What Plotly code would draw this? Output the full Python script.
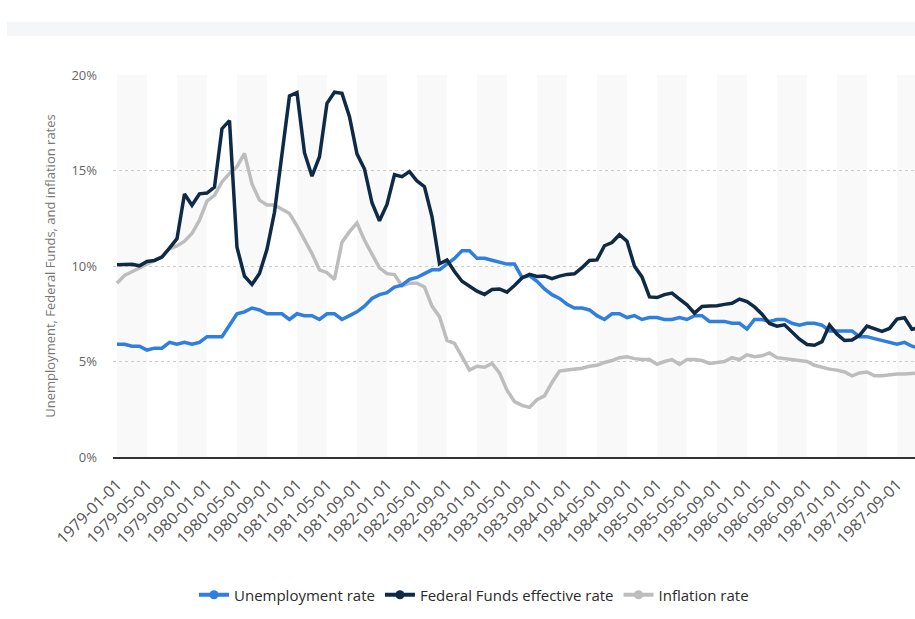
import plotly.graph_objects as go

# ---------------- data ----------------
years = list(range(1979, 1988))
months = [f"{y}-{m:02d}-01" for y in years for m in range(1, 13)]

unemployment = [
    5.9, 5.9, 5.8, 5.8, 5.6, 5.7, 5.7, 6.0, 5.9, 6.0, 5.9, 6.0,
    6.3, 6.3, 6.3, 6.9, 7.5, 7.6, 7.8, 7.7, 7.5, 7.5, 7.5, 7.2,
    7.5, 7.4, 7.4, 7.2, 7.5, 7.5, 7.2, 7.4, 7.6, 7.9, 8.3, 8.5,
    8.6, 8.9, 9.0, 9.3, 9.4, 9.6, 9.8, 9.8, 10.1, 10.4, 10.8, 10.8,
    10.4, 10.4, 10.3, 10.2, 10.1, 10.1, 9.4, 9.5, 9.2, 8.8, 8.5, 8.3,
    8.0, 7.8, 7.8, 7.7, 7.4, 7.2, 7.5, 7.5, 7.3, 7.4, 7.2, 7.3,
    7.3, 7.2, 7.2, 7.3, 7.2, 7.4, 7.4, 7.1, 7.1, 7.1, 7.0, 7.0,
    6.7, 7.2, 7.2, 7.1, 7.2, 7.2, 7.0, 6.9, 7.0, 7.0, 6.9, 6.6,
    6.6, 6.6, 6.6, 6.3, 6.3, 6.2, 6.1, 6.0, 5.9, 6.0, 5.8, 5.7,
]

fed_funds = [
    10.07, 10.06, 10.09, 10.01, 10.24, 10.29, 10.47, 10.94, 11.43, 13.77, 13.18, 13.78,
    13.82, 14.13, 17.19, 17.61, 10.98, 9.47, 9.03, 9.61, 10.87, 12.81, 15.85, 18.90,
    19.08, 15.93, 14.70, 15.72, 18.52, 19.10, 19.04, 17.82, 15.87, 15.08, 13.31, 12.37,
    13.22, 14.78, 14.68, 14.94, 14.45, 14.15, 12.59, 10.12, 10.31, 9.71, 9.20, 8.95,
    8.68, 8.51, 8.77, 8.80, 8.63, 8.98, 9.37, 9.56, 9.45, 9.48, 9.34, 9.47,
    9.56, 9.59, 9.91, 10.29, 10.32, 11.06, 11.23, 11.64, 11.30, 9.99, 9.43, 8.38,
    8.35, 8.50, 8.58, 8.27, 7.97, 7.53, 7.88, 7.90, 7.92, 7.99, 8.05, 8.27,
    8.14, 7.86, 7.48, 6.99, 6.85, 6.92, 6.56, 6.17, 5.89, 5.85, 6.04, 6.91,
    6.43, 6.10, 6.13, 6.37, 6.85, 6.73, 6.58, 6.73, 7.22, 7.29, 6.69, 6.77,
]

inflation = [
    9.1, 9.5, 9.7, 9.9, 10.1, 10.3, 10.5, 10.9, 11.05, 11.3, 11.7, 12.4,
    13.4, 13.7, 14.4, 14.85, 15.2, 15.9, 14.3, 13.45, 13.2, 13.2, 13.0, 12.75,
    12.1, 11.4, 10.65, 9.8, 9.65, 9.3, 11.25, 11.8, 12.25, 11.35, 10.6, 9.9,
    9.6, 9.55, 8.95, 9.1, 9.1, 8.9, 7.9, 7.35, 6.1, 5.95, 5.25, 4.55,
    4.75, 4.7, 4.9, 4.4, 3.5, 2.9, 2.7, 2.6, 3.0, 3.2, 3.9, 4.5,
    4.55, 4.6, 4.65, 4.75, 4.8, 4.95, 5.05, 5.2, 5.25, 5.15, 5.1, 5.1,
    4.85, 5.0, 5.1, 4.85, 5.1, 5.1, 5.05, 4.9, 4.95, 5.0, 5.2, 5.1,
    5.35, 5.25, 5.3, 5.45, 5.2, 5.15, 5.1, 5.05, 5.0, 4.8, 4.7, 4.6,
    4.55, 4.45, 4.25, 4.4, 4.45, 4.25, 4.25, 4.3, 4.35, 4.35, 4.38, 4.4,
]

tick_labels = [
    "1979-01-01", "1979-05-01", "1979-09-01", "1980-01-01", "1980-05-01", "1980-09-01",
    "1981-01-01", "1981-05-01", "1981-09-01", "1982-01-01", "1982-05-01", "1982-09-01",
    "1983-01-01", "1983-05-01", "1983-09-01", "1984-01-01", "1984-05-01", "1984-09-01",
    "1985-01-01", "1985-05-01", "1985-09-01", "1986-01-01", "1986-05-01", "1986-09-01",
    "1987-01-01", "1987-05-01", "1987-09-01",
]
y_ticks = [0, 5, 10, 15, 20]
y_tick_text = ["0%", "5%", "10%", "15%", "20%"]

series_names = ["Unemployment rate", "Federal Funds effective rate", "Inflation rate"]
series_colors = ["#2f7ee0", "#0e2a47", "#bdbdbd"]

# ---------------- figure ----------------
fig = go.Figure()
# draw order: inflation (back), unemployment, fed funds (front)
for vals, name, color in [
    (inflation, series_names[2], series_colors[2]),
    (unemployment, series_names[0], series_colors[0]),
    (fed_funds, series_names[1], series_colors[1]),
]:
    fig.add_trace(go.Scatter(
        x=months, y=vals, mode="lines", name=name,
        line=dict(color=color, width=3.5), showlegend=False,
        hovertemplate="%{x}: %{y:.2f}%<extra>" + name + "</extra>",
    ))

# legend entries
for name, color in zip(series_names, series_colors):
    fig.add_trace(go.Scatter(
        x=[None], y=[None], mode="lines+markers", name=name,
        line=dict(color=color, width=4), marker=dict(color=color, size=9),
        showlegend=True,
    ))

# alternating background bands
shapes = []
n = len(months)
for start in range(0, n, 8):
    shapes.append(dict(
        type="rect", xref="x", yref="y", x0=start, x1=start + 4, y0=0, y1=20,
        fillcolor="#f9f9f9", line=dict(width=0), layer="below",
    ))
# faint strip at the very top of the page
shapes.append(dict(
    type="rect", xref="paper", yref="paper",
    x0=(7 - 113) / 802, x1=(915 - 113) / 802 + 0.01,
    y0=(457 - 36) / 382, y1=(457 - 22) / 382,
    fillcolor="#f5f6f8", line=dict(width=0), layer="below",
))

fig.update_layout(
    width=915, height=619, autosize=False,
    margin=dict(l=113, r=0, t=75, b=162),
    paper_bgcolor="white", plot_bgcolor="white",
    font=dict(family="Open Sans", color="#666666"),
    shapes=shapes,
    showlegend=True,
    legend=dict(
        orientation="h", x=(474 - 113) / 802, xanchor="center",
        y=(457 - 595) / 382, yanchor="middle",
        font=dict(family="Open Sans", size=15, color="#2b2b2b"),
        itemwidth=30, bgcolor="rgba(0,0,0,0)",
    ),
    xaxis=dict(
        type="category", categoryorder="array", categoryarray=months,
        range=[-0.53, 106.4],
        tickmode="array", tickvals=tick_labels, ticktext=tick_labels,
        tickangle=-45, tickfont=dict(family="Open Sans", size=16, color="#555555"),
        showgrid=False, zeroline=False,
        showline=True, linecolor="#333333", linewidth=2,
        ticks="", ticklabelstandoff=10,
    ),
    yaxis=dict(
        range=[0, 20], tickmode="array", tickvals=y_ticks, ticktext=y_tick_text,
        tickfont=dict(family="Open Sans", size=13, color="#666666"),
        showgrid=True, gridcolor="#cccccc", griddash="dot", gridwidth=1,
        zeroline=False, showline=False, ticks="", ticklabelstandoff=15,
        title=dict(text="Unemployment, Federal Funds, and inflation rates",
                   font=dict(family="Open Sans", size=13, color="#777777"),
                   standoff=12),
    ),
)

fig.write_html("out.html")
